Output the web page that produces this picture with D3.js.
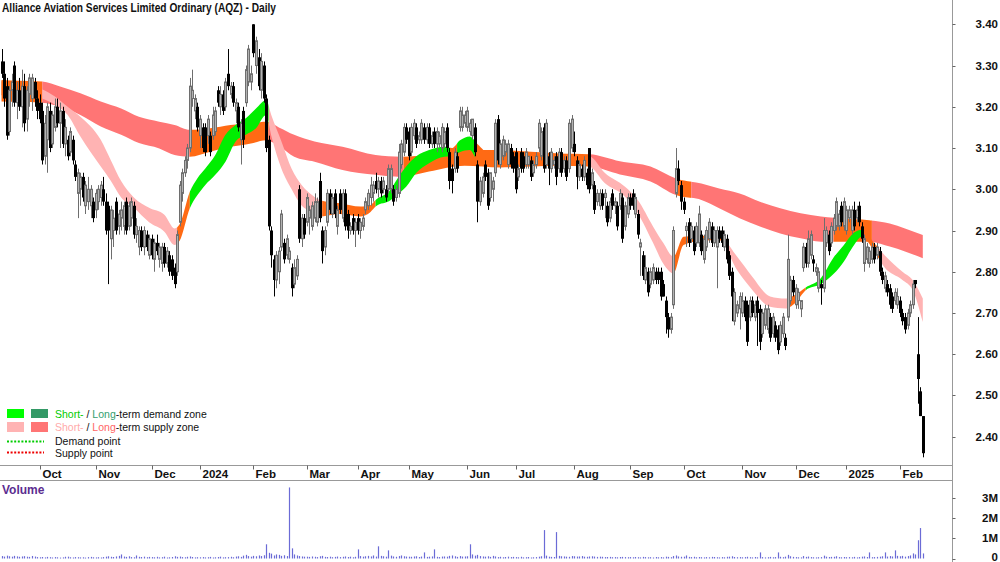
<!DOCTYPE html>
<meta charset="utf-8">
<style>
body { margin: 0; background: #fff; }
svg { display: block; }
.bold { font-family: "Liberation Sans Narrow", "Arial Narrow", "Liberation Sans", Arial, sans-serif; font-weight: bold; fill: #111; }
.legend { font-family: "Liberation Sans", Arial, sans-serif; font-size: 10.5px; fill: #111; }
</style>
<svg width="1000" height="562"></svg>
<script src="https://d3js.org/d3.v7.min.js"></script>
<script>

// daily bars [open, high, low, close], one array per month
var sep23 = [[3.31,3.34,3.27,3.28],[3.28,3.31,3.20,3.22],[3.25,3.27,3.12,3.13],[3.14,3.25,3.13,3.24],[3.24,3.28,3.20,3.26],
  [3.30,3.31,3.20,3.21],[3.21,3.26,3.17,3.24],[3.24,3.27,3.19,3.20],[3.20,3.29,3.15,3.25],[3.25,3.28,3.14,3.16],
  [3.17,3.25,3.14,3.24],[3.23,3.28,3.20,3.27],[3.22,3.28,3.19,3.27],[3.26,3.27,3.20,3.22],[3.22,3.24,3.17,3.19]];
var oct23 = [[3.21,3.23,3.16,3.17],[3.19,3.21,3.06,3.07],[3.08,3.18,3.06,3.16],[3.12,3.21,3.04,3.20],[3.19,3.21,3.09,3.10],
  [3.11,3.19,3.10,3.18],[3.15,3.22,3.14,3.20],[3.20,3.22,3.15,3.16],[3.16,3.21,3.10,3.19],[3.19,3.20,3.10,3.11],
  [3.11,3.17,3.08,3.15],[3.12,3.13,3.07,3.08],[3.09,3.15,3.08,3.14],[3.12,3.13,3.06,3.07],[3.06,3.07,3.02,3.03],
  [2.99,3.05,2.93,3.04],[3.00,3.04,2.96,3.03],[3.03,3.04,2.97,2.98],[2.96,3.02,2.94,3.01],[2.97,3.03,2.95,3.00],
  [2.96,3.01,2.93,3.00],[2.97,2.98,2.92,2.93]];
var nov23 = [[2.95,3.00,2.93,2.99],[2.97,3.01,2.95,3.00],[2.98,3.02,2.96,3.01],[3.00,3.03,2.96,2.97],[2.97,2.99,2.89,2.90],
  [2.96,2.97,2.77,2.90],[2.88,2.96,2.83,2.95],[2.90,2.95,2.86,2.93],[2.97,2.98,2.89,2.90],[2.91,2.95,2.89,2.94],
  [2.93,2.97,2.90,2.95],[2.91,2.97,2.89,2.96],[2.97,2.98,2.89,2.90],[2.91,2.97,2.90,2.96],[2.93,2.98,2.91,2.97],
  [2.96,2.97,2.88,2.89],[2.89,2.93,2.87,2.91],[2.86,2.91,2.84,2.90],[2.90,2.91,2.85,2.86],[2.86,2.91,2.84,2.90],
  [2.89,2.90,2.85,2.86],[2.84,2.89,2.83,2.88]];
var dec23 = [[2.88,2.89,2.83,2.84],[2.83,2.88,2.80,2.87],[2.87,2.89,2.84,2.85],[2.83,2.87,2.81,2.86],[2.82,2.87,2.80,2.86],
  [2.86,2.87,2.81,2.82],[2.82,2.86,2.81,2.85],[2.84,2.85,2.79,2.80],[2.83,2.84,2.78,2.79],[2.81,2.82,2.76,2.77],
  [2.80,2.90,2.79,2.89],[2.92,3.02,2.91,3.01],[2.99,3.05,2.97,3.04],[3.04,3.08,3.03,3.07],[3.07,3.11,3.05,3.10],
  [3.10,3.27,3.09,3.25],[3.22,3.29,3.20,3.24],[3.19,3.23,3.17,3.22],[3.20,3.21,3.14,3.15]];
var jan24 = [[3.13,3.18,3.10,3.17],[3.15,3.16,3.09,3.10],[3.15,3.16,3.08,3.09],[3.13,3.18,3.11,3.17],[3.13,3.14,3.08,3.09],
  [3.13,3.20,3.12,3.18],[3.14,3.20,3.13,3.19],[3.24,3.25,3.20,3.21],[3.20,3.25,3.18,3.23],[3.23,3.24,3.18,3.19],
  [3.20,3.27,3.19,3.26],[3.28,3.34,3.24,3.25],[3.23,3.26,3.22,3.25],[3.25,3.26,3.20,3.21],[3.19,3.22,3.16,3.21],
  [3.20,3.21,3.14,3.15],[3.12,3.17,3.06,3.16],[3.19,3.20,3.10,3.12],[3.21,3.30,3.20,3.29],[3.26,3.35,3.25,3.34],
  [3.26,3.30,3.24,3.28]];
var feb24 = [[3.40,3.40,3.32,3.33],[3.30,3.37,3.28,3.36],[3.32,3.34,3.24,3.25],[3.24,3.33,3.22,3.31],[3.30,3.31,3.21,3.22],
  [3.22,3.23,3.09,3.10],[3.12,3.13,2.90,2.91],[2.90,2.91,2.81,2.84],[2.83,2.84,2.74,2.78],[2.78,2.85,2.76,2.84],
  [2.80,2.86,2.77,2.85],[2.86,2.95,2.85,2.94],[2.87,2.88,2.82,2.83],[2.84,2.89,2.83,2.88],[2.83,2.86,2.82,2.85],
  [2.81,2.82,2.74,2.76],[2.77,2.83,2.76,2.81],[2.79,2.84,2.78,2.83],[3.00,3.01,2.87,2.88],[2.88,2.94,2.86,2.93],
  [2.93,2.94,2.88,2.89]];
var mar24 = [[2.92,2.99,2.91,2.98],[2.93,2.96,2.89,2.95],[2.91,2.97,2.90,2.96],[2.93,2.99,2.92,2.97],[2.92,2.98,2.91,2.97],
  [3.02,3.04,2.92,2.93],[2.90,2.91,2.82,2.85],[2.86,2.91,2.84,2.90],[2.92,3.00,2.91,2.99],[2.99,3.00,2.94,2.95],
  [2.94,2.99,2.93,2.98],[2.99,3.00,2.93,2.94],[2.91,2.96,2.89,2.95],[2.99,3.00,2.94,2.95],[2.93,3.00,2.92,2.99],
  [2.99,3.00,2.90,2.91],[2.94,2.95,2.88,2.90],[2.90,2.92,2.89,2.91],[2.93,2.94,2.89,2.90],[2.90,2.93,2.86,2.92]];
var apr24 = [[2.93,2.94,2.89,2.90],[2.90,2.93,2.88,2.92],[2.91,2.94,2.90,2.93],[2.95,2.98,2.94,2.97],[2.96,3.00,2.95,2.99],
  [2.98,3.03,2.96,3.01],[2.99,3.02,2.97,3.01],[3.02,3.04,2.99,3.00],[3.00,3.03,2.98,3.02],[3.02,3.03,2.98,2.99],
  [3.00,3.03,2.99,3.02],[3.00,3.01,2.97,2.98],[3.00,3.06,2.99,3.05],[3.00,3.06,2.99,3.05],[3.00,3.01,2.96,2.97],
  [2.98,3.01,2.97,3.00],[2.99,3.11,2.98,3.09],[3.06,3.12,3.05,3.11],[3.09,3.16,3.08,3.15],[3.15,3.16,3.11,3.12]];
var may24 = [[3.14,3.15,3.07,3.08],[3.09,3.16,3.08,3.15],[3.13,3.17,3.12,3.16],[3.15,3.16,3.10,3.11],[3.12,3.14,3.11,3.13],
  [3.12,3.17,3.11,3.16],[3.15,3.16,3.11,3.12],[3.12,3.16,3.11,3.15],[3.15,3.16,3.10,3.11],[3.11,3.14,3.10,3.13],
  [3.14,3.15,3.10,3.11],[3.11,3.15,3.09,3.14],[3.11,3.14,3.10,3.13],[3.10,3.16,3.09,3.15],[3.11,3.15,3.10,3.14],
  [3.15,3.16,3.09,3.10],[3.09,3.10,3.00,3.02],[3.05,3.06,2.99,3.02],[3.05,3.10,3.04,3.09],[3.08,3.09,3.04,3.05],
  [3.15,3.20,3.14,3.19],[3.15,3.20,3.14,3.18],[3.16,3.19,3.15,3.18]];
var jun24 = [[3.15,3.20,3.14,3.19],[3.14,3.17,3.13,3.16],[3.13,3.17,3.12,3.17],[3.15,3.16,3.08,3.09],[3.06,3.07,2.92,2.97],
  [2.97,3.03,2.96,3.02],[2.99,3.04,2.98,3.03],[3.06,3.07,3.02,3.03],[3.04,3.05,2.95,2.96],[2.98,3.04,2.97,3.04],
  [3.00,3.03,2.97,3.02],[3.04,3.17,3.03,3.16],[3.17,3.18,3.06,3.07],[3.06,3.12,3.05,3.11],[3.08,3.13,3.07,3.12],
  [3.09,3.12,3.08,3.11],[3.06,3.12,3.05,3.11],[3.10,3.11,3.05,3.06],[3.08,3.09,3.04,3.05]];
var jul24 = [[3.09,3.10,2.99,3.00],[3.03,3.06,3.02,3.05],[3.09,3.10,3.04,3.05],[3.08,3.09,3.04,3.05],[3.06,3.10,3.05,3.09],
  [3.06,3.08,3.05,3.08],[3.07,3.08,3.02,3.03],[3.04,3.07,3.03,3.06],[3.06,3.09,3.05,3.08],[3.10,3.17,3.09,3.16],
  [3.08,3.15,3.07,3.14],[3.15,3.16,3.04,3.05],[3.06,3.17,3.05,3.16],[3.08,3.09,3.01,3.05],[3.05,3.10,3.04,3.09],
  [3.06,3.08,3.05,3.07],[3.08,3.09,3.01,3.03],[3.05,3.10,3.04,3.09],[3.09,3.10,3.03,3.04],[3.05,3.08,3.04,3.07],
  [3.07,3.08,3.02,3.03],[3.05,3.17,3.04,3.16],[3.10,3.18,3.09,3.17]];
var aug24 = [[3.11,3.14,3.08,3.09],[3.07,3.08,3.00,3.03],[3.03,3.07,3.02,3.06],[3.05,3.06,3.02,3.03],[3.03,3.08,3.02,3.07],
  [3.04,3.05,3.00,3.01],[3.10,3.10,2.99,3.00],[3.01,3.05,3.00,3.04],[3.01,3.02,2.94,2.95],[2.97,3.00,2.96,2.99],
  [2.96,3.00,2.95,2.99],[2.99,3.00,2.95,2.96],[2.98,3.00,2.93,2.99],[2.96,2.97,2.91,2.92],[2.93,2.98,2.92,2.97],
  [2.99,3.00,2.95,2.96],[2.96,2.98,2.94,2.97],[2.96,2.97,2.90,2.91],[2.96,3.00,2.95,2.99],[2.98,2.99,2.87,2.88],
  [2.91,2.97,2.90,2.96],[2.94,2.99,2.93,2.98]];
var sep24 = [[2.98,2.99,2.95,2.96],[2.99,3.00,2.95,2.96],[2.94,2.99,2.93,2.98],[2.94,2.95,2.88,2.89],[2.86,2.88,2.79,2.87],
  [2.84,2.85,2.78,2.79],[2.78,2.84,2.77,2.81],[2.80,2.81,2.74,2.75],[2.77,2.81,2.76,2.80],[2.78,2.82,2.77,2.81],
  [2.80,2.81,2.77,2.78],[2.80,2.81,2.77,2.78],[2.80,2.81,2.73,2.74],[2.77,2.78,2.74,2.74],[2.73,2.74,2.65,2.69],
  [2.69,2.70,2.64,2.66],[2.66,2.70,2.65,2.69],[2.72,2.91,2.71,2.90],[2.99,3.10,2.98,3.05],[3.05,3.07,3.01,3.02],
  [3.01,3.02,2.95,2.97]];
var oct24 = [[2.97,2.98,2.94,2.95],[2.90,2.92,2.86,2.91],[2.92,2.93,2.86,2.87],[2.88,2.92,2.87,2.91],[2.90,2.91,2.84,2.85],
  [2.87,2.92,2.86,2.91],[2.87,2.96,2.86,2.94],[2.89,2.90,2.84,2.85],[2.83,2.89,2.82,2.88],[2.86,2.91,2.85,2.90],
  [2.88,2.93,2.87,2.92],[2.91,2.92,2.86,2.87],[2.87,2.91,2.86,2.90],[2.86,2.91,2.76,2.90],[2.90,2.91,2.87,2.88],
  [2.90,2.91,2.86,2.87],[2.86,2.90,2.85,2.89],[2.88,2.89,2.82,2.83],[2.84,2.85,2.78,2.79],[2.80,2.81,2.68,2.74],
  [2.68,2.76,2.67,2.75],[2.70,2.73,2.69,2.72],[2.71,2.75,2.66,2.74]];
var nov24 = [[2.70,2.75,2.69,2.73],[2.73,2.74,2.68,2.69],[2.72,2.73,2.62,2.63],[2.69,2.74,2.68,2.73],[2.73,2.74,2.69,2.70],
  [2.69,2.73,2.68,2.72],[2.73,2.74,2.62,2.70],[2.71,2.72,2.61,2.63],[2.65,2.71,2.64,2.70],[2.67,2.72,2.66,2.71],
  [2.66,2.72,2.65,2.71],[2.69,2.70,2.63,2.64],[2.65,2.70,2.64,2.69],[2.67,2.68,2.63,2.64],[2.66,2.67,2.60,2.61],
  [2.63,2.68,2.62,2.67],[2.65,2.70,2.64,2.69],[2.64,2.65,2.61,2.62],[2.69,2.89,2.68,2.83],[2.73,2.79,2.72,2.78],
  [2.78,2.79,2.74,2.75]];
var dec24 = [[2.72,2.77,2.71,2.76],[2.73,2.76,2.71,2.75],[2.71,2.73,2.69,2.73],[2.81,2.87,2.80,2.86],[2.86,2.87,2.81,2.82],
  [2.82,2.90,2.81,2.88],[2.84,2.90,2.83,2.89],[2.83,2.84,2.80,2.82],[2.80,2.82,2.79,2.81],[2.76,2.81,2.75,2.80],
  [2.77,2.78,2.72,2.76],[2.76,2.93,2.75,2.90],[2.87,2.91,2.86,2.90],[2.89,2.90,2.84,2.85],[2.87,2.92,2.86,2.91],
  [2.90,2.94,2.89,2.93],[2.91,2.98,2.90,2.97],[2.91,2.95,2.90,2.94],[2.96,2.97,2.91,2.92],[2.91,2.98,2.90,2.97]];
var jan25 = [[2.90,2.96,2.89,2.95],[2.93,2.96,2.92,2.95],[2.90,2.96,2.89,2.95],[2.95,2.97,2.90,2.91],[2.93,2.96,2.92,2.95],
  [2.96,2.97,2.91,2.92],[2.91,2.92,2.87,2.88],[2.82,2.89,2.80,2.88],[2.83,2.87,2.82,2.86],[2.82,2.86,2.81,2.85],
  [2.83,2.87,2.82,2.86],[2.86,2.87,2.82,2.83],[2.84,2.87,2.83,2.86],[2.85,2.86,2.79,2.80],[2.80,2.81,2.77,2.78],
  [2.76,2.80,2.75,2.79],[2.77,2.78,2.74,2.75],[2.76,2.77,2.71,2.72],[2.74,2.75,2.70,2.71],[2.73,2.76,2.72,2.75],
  [2.72,2.76,2.71,2.74]];
var feb25 = [[2.73,2.74,2.69,2.70],[2.70,2.71,2.67,2.68],[2.69,2.70,2.65,2.66],[2.67,2.71,2.66,2.70],[2.70,2.73,2.69,2.72],
  [2.72,2.78,2.71,2.77],[2.78,2.78,2.76,2.77],[2.60,2.69,2.48,2.54],[2.51,2.52,2.45,2.45],[2.45,2.45,2.35,2.36]];

// daily volume, thousands of shares
var volSep23 = [120,95,140,110,90,130,105,85,100,115,90,80,125,95,70];
var volOct23 = [60,75,55,80,65,50,70,60,45,55,85,90,60,50,70,65,55,60,45,70,80,60];
var volNov23 = [55,65,50,70,90,110,85,75,100,130,200,95,80,110,70,60,150,85,75,90,65,80];
var volDec23 = [70,60,85,55,65,90,50,60,75,110,80,95,70,60,85,100,75,55,65];
var volJan24 = [60,70,55,65,80,50,60,75,90,55,65,70,85,60,95,110,80,140,180,120,90];
var volFeb24 = [130,110,150,120,160,700,280,240,150,200,180,130,160,120,3500,500,200,150,120,100,90];
var volMar24 = [90,80,100,85,70,110,130,80,75,90,65,80,95,70,85,100,75,90,60,85];
var volApr24 = [450,120,90,110,130,100,150,95,600,130,110,90,400,140,100,85,120,150,110,95];
var volMay24 = [90,85,100,110,75,95,300,80,90,100,450,85,70,95,100,90,130,150,110,80,120,95,100];
var volJun24 = [110,700,200,140,180,120,100,90,110,80,130,100,70,85,60,75,90,70,80];
var volJul24 = [70,60,85,55,65,75,50,60,70,90,110,1400,140,90,80,75,1300,130,110,100,90,85,120];
var volAug24 = [110,95,100,120,90,85,100,110,95,80,90,85,70,75,80,65,70,60,75,80,70,65];
var volSep24 = [70,60,75,65,55,80,70,60,65,50,75,60,70,55,90,80,65,120,150,100,85];
var volOct24 = [90,150,80,70,85,60,75,65,55,70,60,80,75,65,55,70,60,85,90,110,75,65,70];
var volNov24 = [60,70,85,65,55,75,60,300,70,55,65,80,60,70,300,85,65,90,180,110,80];
var volDec24 = [70,60,55,120,80,95,70,60,55,65,70,140,90,75,80,85,110,70,60,75];
var volJan25 = [65,70,60,80,55,70,90,100,75,300,65,70,80,90,110,300,95,120,100,400,130];
var volFeb25 = [110,130,90,120,150,250,200,900,1500,250];

var candleMonths = [sep23, oct23, nov23, dec23, jan24, feb24, mar24, apr24, may24, jun24, jul24, aug24,
                    sep24, oct24, nov24, dec24, jan25, feb25];
var volumeMonths = [volSep23, volOct23, volNov23, volDec23, volJan24, volFeb24, volMar24, volApr24, volMay24,
                    volJun24, volJul24, volAug24, volSep24, volOct24, volNov24, volDec24, volJan25, volFeb25];
// tick label for the first trading day of each month (first month starts mid-month, no tick)
var monthLabels = ["", "Oct", "Nov", "Dec", "2024", "Feb", "Mar", "Apr", "May", "Jun", "Jul", "Aug",
                   "Sep", "Oct", "Nov", "Dec", "2025", "Feb"];

// zone bands, sampled at bar numbers
var longBar = [0,7,16,23,31,39,47,54,62,68,74,82,90,98,104,109,115,123,134,147,157,168,182,196,208,219,231,243,255,265,275,282,290,298,306,314,322,329,341,349,355,362];
var longTop = [3.265,3.263,3.261,3.249,3.233,3.213,3.196,3.176,3.164,3.156,3.144,3.148,3.156,3.160,3.164,3.150,3.132,3.116,3.103,3.083,3.079,3.083,3.095,3.095,3.091,3.087,3.085,3.068,3.055,3.026,3.014,3.002,2.990,2.970,2.954,2.942,2.934,2.930,2.925,2.917,2.905,2.889];
var longBottom = [3.213,3.212,3.210,3.200,3.180,3.152,3.132,3.112,3.099,3.083,3.079,3.091,3.103,3.111,3.119,3.105,3.079,3.067,3.047,3.035,3.030,3.043,3.057,3.053,3.055,3.057,3.055,3.036,3.019,2.986,2.974,2.954,2.930,2.910,2.893,2.881,2.873,2.873,2.873,2.861,2.849,2.833];

var shortBar = [0,7,15,21,26,31,39,43,47,52,58,64,68,70,74,77,80,84,88,92,96,100,104,106,110,114,118,122,125,133,141,145,147,153,155,159,163,168,174,177,180,184,187,192,204,219,231,237,245,250,256,260,264,268,275,282,289,295,302,308,312,316,322,327,331,335,338,343,347,354,358,362];
var shortTop = [3.262,3.258,3.245,3.225,3.200,3.176,3.120,3.070,3.020,2.980,2.955,2.938,2.905,2.915,2.994,3.027,3.050,3.083,3.132,3.156,3.172,3.196,3.216,3.180,3.116,3.050,3.010,2.986,2.974,2.966,2.958,2.962,2.974,3.000,3.020,3.055,3.080,3.095,3.103,3.100,3.118,3.128,3.110,3.085,3.080,3.085,3.080,3.040,3.006,2.974,2.910,2.870,2.837,2.885,2.887,2.885,2.837,2.788,2.740,2.735,2.745,2.762,2.785,2.835,2.865,2.895,2.902,2.869,2.840,2.800,2.780,2.735];
var shortBottom = [3.228,3.230,3.222,3.205,3.180,3.128,3.055,3.020,2.980,2.955,2.920,2.897,2.865,2.875,2.954,2.986,3.010,3.035,3.067,3.116,3.132,3.148,3.180,3.130,3.050,3.000,2.960,2.946,2.934,2.940,2.934,2.945,2.958,2.974,2.985,3.006,3.040,3.063,3.079,3.080,3.090,3.095,3.070,3.060,3.060,3.063,3.055,3.015,2.982,2.942,2.870,2.820,2.796,2.865,2.875,2.877,2.804,2.756,2.715,2.711,2.725,2.755,2.770,2.795,2.825,2.865,2.885,2.849,2.810,2.780,2.756,2.678];

// zone state by bar range: supply / demand / mixed
var longZones = [[0,16,"mixed"],[16,74,"supply"],[74,105,"mixed"],[105,158,"supply"],[158,231,"mixed"],[231,265,"supply"],
                 [265,271,"mixed"],[271,327,"supply"],[327,342,"mixed"],[342,362,"supply"]];
var shortZones = [[0,16,"mixed"],[16,69,"supply"],[69,74,"mixed"],[74,105,"demand"],[105,126,"supply"],[126,147,"mixed"],
                  [147,176,"demand"],[176,179,"mixed"],[179,186,"demand"],[186,231,"mixed"],[231,264,"supply"],
                  [264,284,"mixed"],[284,309,"supply"],[309,316,"mixed"],[316,338,"demand"],[338,345,"mixed"],[345,362,"supply"]];

var priceTicks = [2.4, 2.5, 2.6, 2.7, 2.8, 2.9, 3.0, 3.1, 3.2, 3.3, 3.4];
var volumeTicks = [0, 1, 2, 3];

var bars = candleMonths.flat();
var volumes = volumeMonths.flat();
var lastBar = bars.length - 1;

var svg = d3.select("svg"),
    axisX = 952.5,
    priceBottom = 465.5,
    volumeTop = 480.5;

var x = d3.scaleLinear().domain([0, lastBar]).range([1.5, 922.8]),
    y = d3.scaleLinear().domain([2.4, 3.4]).range([436.7, 24.3]),
    yVol = d3.scaleLinear().domain([0, 3]).range([558.5, 497.6]);

function px(i) { return Math.round(x(i)) + 0.5; }

var defs = svg.append("defs");
var bandLayer = svg.append("g");
var clipCount = 0;

var longColours = {supply: "#ff7575", demand: "#339966", mixed: "#ff6a14"};
var shortColours = {supply: "#ffb3b3", demand: "#00ee00", mixed: "#ff6a14"};

function drawBand(barNo, top, bottom, zones, colours) {
  var pts = barNo.map(function(b, k) { return {i: b, top: top[k], bottom: bottom[k]}; });
  var area = d3.area()
      .x(function(d) { return x(d.i); })
      .y0(function(d) { return y(d.bottom); })
      .y1(function(d) { return y(d.top); })
      .curve(d3.curveMonotoneX);
  zones.forEach(function(z) {
    var id = "zone" + (clipCount++);
    var x0 = z[0] === 0 ? 0 : x(z[0]),
        x1 = z[1] === lastBar ? axisX : x(z[1]);
    defs.append("clipPath").attr("id", id).append("rect")
        .attr("x", x0).attr("y", 0)
        .attr("width", x1 - x0).attr("height", priceBottom);
    bandLayer.append("path").datum(pts)
        .attr("clip-path", "url(#" + id + ")")
        .attr("fill", colours[z[2]])
        .attr("d", area);
  });
}

drawBand(longBar, longTop, longBottom, longZones, longColours);
drawBand(shortBar, shortTop, shortBottom, shortZones, shortColours);

// candles
var candles = svg.append("g");
function isUp(d) { return d[3] >= d[0]; }

candles.selectAll(".wick")
  .data(bars)
  .join("line")
    .attr("class", "wick")
    .attr("x1", function(d, i) { return px(i); })
    .attr("x2", function(d, i) { return px(i); })
    .attr("y1", function(d) { return y(d[1]); })
    .attr("y2", function(d) { return y(d[2]); })
    .attr("stroke", function(d) { return isUp(d) ? "#6e6e6e" : "#000"; })
    .attr("stroke-width", 1);

candles.selectAll(".body")
  .data(bars)
  .join("rect")
    .attr("class", "body")
    .attr("x", function(d, i) { return isUp(d) ? px(i) - 1 : px(i) - 1.5; })
    .attr("width", function(d) { return isUp(d) ? 2 : 3; })
    .attr("y", function(d) { return y(Math.max(d[0], d[3])); })
    .attr("height", function(d) { return Math.max(1, Math.abs(y(d[0]) - y(d[3]))); })
    .attr("fill", function(d) { return isUp(d) ? "#b2b2b2" : "#000"; })
    .attr("stroke", function(d) { return isUp(d) ? "#6e6e6e" : "none"; })
    .attr("stroke-width", 1);

// volume
svg.append("g").selectAll("line")
  .data(volumes)
  .join("line")
    .attr("x1", function(d, i) { return px(i); })
    .attr("x2", function(d, i) { return px(i); })
    .attr("y1", yVol(0))
    .attr("y2", function(d) { return yVol(d / 1000); })
    .attr("stroke", "#6b6bd6")
    .attr("stroke-width", 1.2);

// frame lines
var frame = svg.append("g").attr("stroke", "#999").attr("stroke-width", 1);
frame.append("line").attr("x1", axisX).attr("x2", axisX).attr("y1", 0).attr("y2", 562);
frame.append("line").attr("x1", 0).attr("x2", axisX).attr("y1", priceBottom).attr("y2", priceBottom);
frame.append("line").attr("x1", 0).attr("x2", axisX).attr("y1", volumeTop).attr("y2", volumeTop);

// price axis
var priceAxis = svg.append("g");
priceAxis.selectAll("line").data(priceTicks).join("line")
    .attr("x1", axisX).attr("x2", axisX + 3)
    .attr("y1", function(d) { return Math.round(y(d)) + 0.5; })
    .attr("y2", function(d) { return Math.round(y(d)) + 0.5; })
    .attr("stroke", "#666");
priceAxis.selectAll("text").data(priceTicks).join("text")
    .attr("class", "bold")
    .attr("font-size", 11.5)
    .attr("text-anchor", "end")
    .attr("x", 998)
    .attr("y", function(d) { return y(d) + 4; })
    .text(function(d) { return d.toFixed(2); });

// volume axis
var volAxis = svg.append("g");
volAxis.selectAll("line").data(volumeTicks).join("line")
    .attr("x1", axisX).attr("x2", axisX + 3)
    .attr("y1", function(d) { return Math.round(yVol(d)) + 0.5; })
    .attr("y2", function(d) { return Math.round(yVol(d)) + 0.5; })
    .attr("stroke", "#666");
volAxis.selectAll("text").data(volumeTicks).join("text")
    .attr("class", "bold")
    .attr("font-size", 11.5)
    .attr("text-anchor", "end")
    .attr("x", 998)
    .attr("y", function(d) { return Math.min(yVol(d) + 4, 561); })
    .text(function(d) { return d === 0 ? "0" : d + "M"; });

// date axis: first bar of each month
var monthStarts = [];
candleMonths.reduce(function(start, m, k) {
  if (monthLabels[k]) monthStarts.push({label: monthLabels[k], bar: start});
  return start + m.length;
}, 0);

var dateAxis = svg.append("g");
dateAxis.selectAll("line").data(monthStarts).join("line")
    .attr("x1", function(d) { return px(d.bar); })
    .attr("x2", function(d) { return px(d.bar); })
    .attr("y1", priceBottom).attr("y2", priceBottom + 4)
    .attr("stroke", "#666");
dateAxis.selectAll("text").data(monthStarts).join("text")
    .attr("class", "bold")
    .attr("font-size", 11.5)
    .attr("x", function(d) { return px(d.bar) + 2; })
    .attr("y", 478)
    .text(function(d) { return d.label; });

// titles
svg.append("text")
    .attr("class", "bold")
    .attr("font-size", 12)
    .attr("x", 2).attr("y", 12)
    .attr("textLength", 274).attr("lengthAdjust", "spacingAndGlyphs")
    .text("Alliance Aviation Services Limited Ordinary (AQZ) - Daily");

svg.append("text")
    .attr("class", "bold")
    .attr("font-size", 12)
    .style("fill", "#5b2d90")
    .attr("x", 2).attr("y", 494)
    .text("Volume");

// legend
var legend = svg.append("g");
legend.append("rect").attr("x", 7).attr("y", 409).attr("width", 17).attr("height", 9).attr("fill", "#00ff00");
legend.append("rect").attr("x", 31).attr("y", 409).attr("width", 17).attr("height", 9).attr("fill", "#339966");
legend.append("rect").attr("x", 7).attr("y", 422).attr("width", 17).attr("height", 10).attr("fill", "#ffb3b3");
legend.append("rect").attr("x", 31).attr("y", 422).attr("width", 17).attr("height", 10).attr("fill", "#ff7575");
legend.append("line").attr("x1", 7).attr("x2", 44).attr("y1", 441.5).attr("y2", 441.5)
    .attr("stroke", "#00cc00").attr("stroke-width", 2).attr("stroke-dasharray", "2,1.6");
legend.append("line").attr("x1", 7).attr("x2", 44).attr("y1", 452.5).attr("y2", 452.5)
    .attr("stroke", "#ee0000").attr("stroke-width", 2).attr("stroke-dasharray", "2,1.6");

var legendRows = [
  {y: 418, parts: [["Short-", "#00cc00"], [" / ", "#111"], ["Long", "#33a070"], ["-term demand zone", "#111"]]},
  {y: 431, parts: [["Short-", "#ffaaaa"], [" / ", "#111"], ["Long", "#ff6666"], ["-term supply zone", "#111"]]},
  {y: 445, parts: [["Demand point", "#111"]]},
  {y: 457, parts: [["Supply point", "#111"]]}
];
legendRows.forEach(function(row) {
  var t = legend.append("text").attr("class", "legend").attr("x", 55).attr("y", row.y);
  row.parts.forEach(function(p) {
    t.append("tspan").style("fill", p[1]).text(p[0]);
  });
});

</script>
